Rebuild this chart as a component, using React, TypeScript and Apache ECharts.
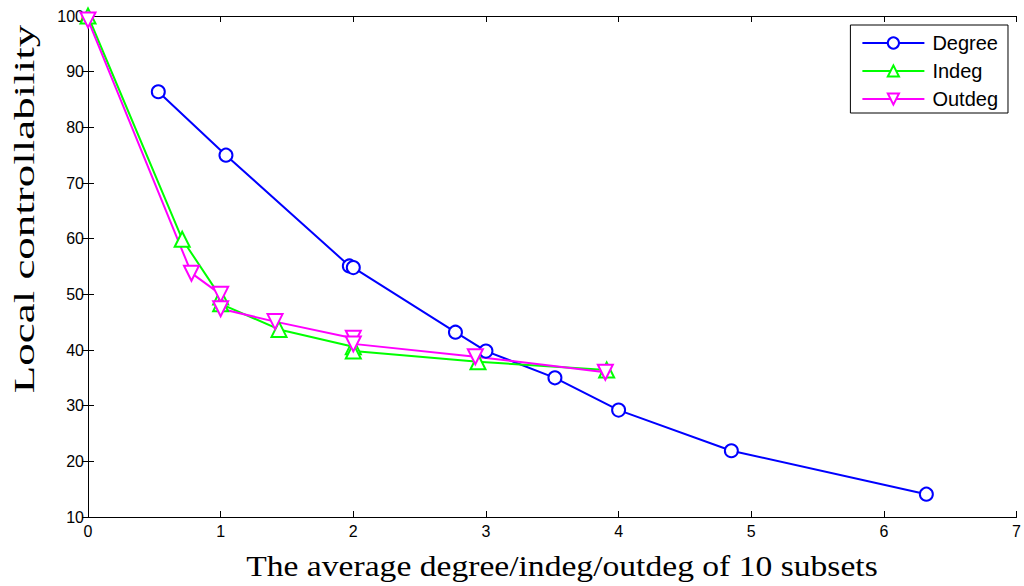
import React, { useEffect, useRef } from "react";
import * as echarts from "echarts";

const degreeX = [0.53, 1.04, 1.97, 2.0, 2.77, 3.0, 3.52, 4.0, 4.85, 6.32];
const degreeY = [86.4, 75.0, 55.1, 54.8, 43.2, 39.8, 35.0, 29.2, 21.9, 14.1];
const indegX = [0, 0.71, 1.0, 1.0, 1.44, 2.0, 2.0, 2.94, 3.91];
const indegY = [100, 59.9, 49.5, 48.3, 43.7, 40.6, 39.8, 37.9, 36.4];
const outdegX = [0, 0.78, 1.0, 1.0, 1.41, 2.0, 2.0, 2.92, 3.9];
const outdegY = [99.3, 53.8, 50.0, 47.4, 45.1, 42.1, 41.1, 38.8, 36.0];
const seriesNames = ["Degree", "Indeg", "Outdeg"];
const xTitle = "The average degree/indeg/outdeg of 10 subsets";
const yTitle = "Local controllability";

const zip = (xs: number[], ys: number[]) => xs.map((x, i) => [x, ys[i]]);

export default function App() {
  const ref = useRef<HTMLDivElement>(null);
  useEffect(() => {
    if (!ref.current) return;
    const chart = echarts.init(ref.current, null, { renderer: "svg" });
    const tickFont = { fontFamily: "Liberation Sans", fontSize: 16, color: "#000" };
    const axisLine = { show: true, lineStyle: { color: "#000", width: 1 } };
    const axisTick = { show: true, inside: true, length: 6, lineStyle: { color: "#000" } };
    const mkSeries = (name: string, data: number[][], color: string, symbol: string, size: number, rotate = 0) => ({
      name,
      type: "line",
      data,
      symbol,
      symbolSize: size,
      symbolRotate: rotate,
      showAllSymbol: true,
      lineStyle: { color, width: 2 },
      itemStyle: { color, borderColor: color, borderWidth: 2 },
      emphasis: { disabled: true },
      z: 3,
    });
    chart.setOption({
      animation: false,
      backgroundColor: "#fff",
      grid: { left: 88, right: 4, top: 16, bottom: 69, show: false },
      legend: {
        orient: "vertical",
        right: 16,
        top: 25,
        data: seriesNames,
        backgroundColor: "#fff",
        borderColor: "#000",
        borderWidth: 1,
        borderRadius: 0,
        padding: [8, 10, 4, 11],
        itemWidth: 62,
        itemHeight: 14,
        itemGap: 8,
        textStyle: { fontFamily: "Liberation Sans", fontSize: 20, color: "#000", padding: [0, 0, 0, 3] },
      },
      graphic: [
        {
          type: "text",
          x: 562,
          y: 566,
          scaleX: 1.12,
          style: {
            text: xTitle,
            fontFamily: "Liberation Serif",
            fontSize: 30,
            fill: "#000",
            align: "center",
            verticalAlign: "middle",
          },
        },
        {
          type: "text",
          x: 24,
          y: 209,
          rotation: Math.PI / 2,
          scaleX: 1.5,
          style: {
            text: yTitle,
            fontFamily: "Liberation Serif",
            fontSize: 30,
            fill: "#000",
            align: "center",
            verticalAlign: "middle",
          },
        },
      ],
      xAxis: [
        {
          type: "value",
          min: 0,
          max: 7,
          interval: 1,
          axisLine,
          axisTick,
          axisLabel: { ...tickFont, margin: 6 },
          splitLine: { show: false },
        },
        {
          type: "value",
          position: "top",
          min: 0,
          max: 7,
          interval: 1,
          axisLine,
          axisTick,
          axisLabel: { show: false },
          splitLine: { show: false },
        },
      ],
      yAxis: [
        {
          type: "value",
          min: 10,
          max: 100,
          interval: 10,
          axisLine,
          axisTick,
          axisLabel: { ...tickFont, margin: 4 },
          splitLine: { show: false },
        },
        {
          type: "value",
          position: "right",
          min: 10,
          max: 100,
          interval: 10,
          axisLine,
          axisTick,
          axisLabel: { show: false },
          splitLine: { show: false },
        },
      ],
      series: [
        mkSeries(seriesNames[0], zip(degreeX, degreeY), "#0000ff", "emptyCircle", 13),
        mkSeries(seriesNames[1], zip(indegX, indegY), "#00ff00", "emptyTriangle", 15),
        mkSeries(seriesNames[2], zip(outdegX, outdegY), "#ff00ff", "emptyTriangle", 15, 180),
      ],
    });
    return () => chart.dispose();
  }, []);
  return <div ref={ref} style={{ width: 1024, height: 586, position: "absolute", left: 0, top: 0 }} />;
}
